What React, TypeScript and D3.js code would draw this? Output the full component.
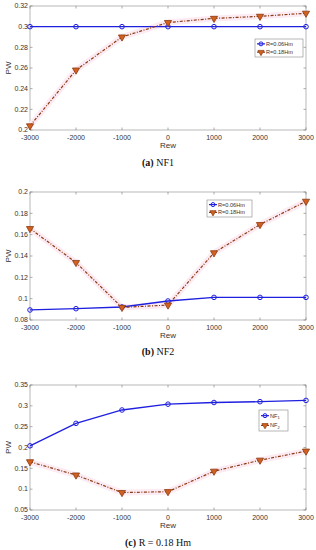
import * as d3 from "d3";
import { useEffect, useRef } from "react";

// Sample data
const rew = [-3000, -2000, -1000, 0, 1000, 2000, 3000];
const nf1R006 = [0.3, 0.3, 0.3, 0.3, 0.3, 0.3, 0.3];
const nf1R018 = [0.204, 0.258, 0.29, 0.304, 0.308, 0.31, 0.313];
const nf2R006 = [0.0894, 0.0906, 0.0922, 0.0978, 0.1012, 0.1012, 0.1012];
const nf2R018 = [0.1657, 0.1339, 0.0918, 0.094, 0.143, 0.1695, 0.1913];
const xTicks = [-3000, -2000, -1000, 0, 1000, 2000, 3000];
const yTicksA = [0.2, 0.22, 0.24, 0.26, 0.28, 0.3, 0.32];
const yTicksB = [0.08, 0.1, 0.12, 0.14, 0.16, 0.18, 0.2];
const yTicksC = [0.05, 0.1, 0.15, 0.2, 0.25, 0.3, 0.35];

const WIDTH = 316;
const HEIGHT = 550;
const BLUE = "#1f1fe0";
const BROWN = "#8a3a12";
const TRI_FILL = "#d2601e";
const SANS = "Liberation Sans, Arial, sans-serif";
const SERIF = "Liberation Serif, DejaVu Serif, serif";

const panels = [
  {
    top: 6, bottom: 130, yTicks: yTicksA, s1: nf1R006, s2: nf1R018,
    labels: ["R=0.06Hm", "R=0.18Hm"], sub: false,
    legend: { x: 255, y: 39, w: 48, h: 18 },
    caption: ["(a)", " NF1"], rewY: 148, capY: 166,
  },
  {
    top: 192, bottom: 320, yTicks: yTicksB, s1: nf2R006, s2: nf2R018,
    labels: ["R=0.06Hm", "R=0.18Hm"], sub: false,
    legend: { x: 207, y: 200, w: 45, h: 17 },
    caption: ["(b)", " NF2"], rewY: 338, capY: 355,
  },
  {
    top: 385, bottom: 510, yTicks: yTicksC, s1: nf1R018, s2: nf2R018,
    labels: ["NF", "NF"], sub: true,
    legend: { x: 259, y: 410, w: 29, h: 21 },
    caption: ["(c)", " R = 0.18 Hm"], rewY: 528, capY: 546,
  },
];

const App = () => {
  const svgRef = useRef(null);

  useEffect(() => {
    const svg = d3.select(svgRef.current);
    svg.selectAll("*").remove();
    const left = 30;
    const right = 306;

    panels.forEach((p) => {
      const g = svg.append("g");
      const ys = p.yTicks;
      const x = d3.scaleLinear().domain([-3000, 3000]).range([left, right]);
      const y = d3.scaleLinear().domain([ys[0], ys[ys.length - 1]]).range([p.bottom, p.top]);

      // white axes background + box
      g.append("rect")
        .attr("x", left).attr("y", p.top)
        .attr("width", right - left).attr("height", p.bottom - p.top)
        .attr("fill", "white").attr("stroke", "#9a9a9a").attr("stroke-width", 0.7);

      // ticks on all sides
      xTicks.forEach((t) => {
        g.append("line").attr("x1", x(t)).attr("x2", x(t))
          .attr("y1", p.bottom).attr("y2", p.bottom - 2.5)
          .attr("stroke", "#777").attr("stroke-width", 0.6);
        g.append("line").attr("x1", x(t)).attr("x2", x(t))
          .attr("y1", p.top).attr("y2", p.top + 2.5)
          .attr("stroke", "#777").attr("stroke-width", 0.6);
        g.append("text").attr("x", x(t)).attr("y", p.bottom + 9.5)
          .attr("text-anchor", "middle").attr("font-family", SANS)
          .attr("font-size", 7).attr("fill", "#333").text(t);
      });
      ys.forEach((t) => {
        g.append("line").attr("x1", left).attr("x2", left + 2.5)
          .attr("y1", y(t)).attr("y2", y(t))
          .attr("stroke", "#777").attr("stroke-width", 0.6);
        g.append("line").attr("x1", right).attr("x2", right - 2.5)
          .attr("y1", y(t)).attr("y2", y(t))
          .attr("stroke", "#777").attr("stroke-width", 0.6);
        g.append("text").attr("x", left - 2).attr("y", y(t) + 2.2)
          .attr("text-anchor", "end").attr("font-family", SANS)
          .attr("font-size", 7).attr("fill", "#333").text(d3.format("~g")(+t.toFixed(2)));
      });

      // axis labels
      g.append("text")
        .attr("transform", `translate(11,${(p.top + p.bottom) / 2}) rotate(-90)`)
        .attr("text-anchor", "middle").attr("font-family", SANS)
        .attr("font-size", 8).attr("fill", "#333").text("PW");
      g.append("text").attr("x", (left + right) / 2).attr("y", p.rewY)
        .attr("text-anchor", "middle").attr("font-family", SANS)
        .attr("font-size", 8).attr("fill", "#333").text("Rew");

      const line = d3.line().x((d, i) => x(rew[i])).y((d) => y(d));

      // soft pink halo under the dashed series
      g.append("path").datum(p.s2)
        .attr("fill", "none").attr("stroke", "#fdebf3")
        .attr("stroke-width", 6).attr("d", line);

      // first series: blue solid with circles
      g.append("path").datum(p.s1)
        .attr("fill", "none").attr("stroke", BLUE)
        .attr("stroke-width", 1.3).attr("d", line);
      p.s1.forEach((v, i) => {
        g.append("circle").attr("cx", x(rew[i])).attr("cy", y(v)).attr("r", 2.3)
          .attr("fill", "none").attr("stroke", BLUE).attr("stroke-width", 1);
      });

      // second series: brown dash-dot with down triangles
      g.append("path").datum(p.s2)
        .attr("fill", "none").attr("stroke", BROWN)
        .attr("stroke-width", 1.2).attr("stroke-dasharray", "3,1.5,1,1.5")
        .attr("d", line);
      const tri = d3.symbol().type(d3.symbolTriangle).size(22);
      p.s2.forEach((v, i) => {
        g.append("path").attr("d", tri())
          .attr("transform", `translate(${x(rew[i])},${y(v)}) rotate(180)`)
          .attr("fill", TRI_FILL).attr("stroke", BROWN).attr("stroke-width", 0.8);
      });

      // legend
      const L = p.legend;
      const lg = g.append("g");
      lg.append("rect").attr("x", L.x).attr("y", L.y).attr("width", L.w).attr("height", L.h)
        .attr("fill", "white").attr("stroke", "#888").attr("stroke-width", 0.6);
      const rowY = [L.y + L.h * 0.27, L.y + L.h * 0.73];
      rowY.forEach((ry, k) => {
        const lx1 = L.x + 2;
        const lx2 = L.x + 10;
        lg.append("line").attr("x1", lx1).attr("x2", lx2).attr("y1", ry).attr("y2", ry)
          .attr("stroke", k === 0 ? BLUE : BROWN).attr("stroke-width", 1.2)
          .attr("stroke-dasharray", k === 0 ? null : "2,1");
        if (k === 0) {
          lg.append("circle").attr("cx", (lx1 + lx2) / 2).attr("cy", ry).attr("r", 2)
            .attr("fill", "none").attr("stroke", BLUE).attr("stroke-width", 1);
        } else {
          lg.append("path").attr("d", d3.symbol().type(d3.symbolTriangle).size(16)())
            .attr("transform", `translate(${(lx1 + lx2) / 2},${ry}) rotate(180)`)
            .attr("fill", TRI_FILL).attr("stroke", BROWN).attr("stroke-width", 0.7);
        }
        const t = lg.append("text").attr("x", lx2 + 1).attr("y", ry + 2)
          .attr("font-family", SANS).attr("font-size", 5.6).attr("fill", "#333")
          .text(p.labels[k]);
        if (p.sub) {
          t.append("tspan").attr("dy", 1.5).attr("font-size", 4).text(String(k + 1));
        }
      });

      // caption
      const cap = g.append("text").attr("x", 158).attr("y", p.capY)
        .attr("text-anchor", "middle").attr("font-family", SERIF)
        .attr("font-size", 10).attr("fill", "#111");
      cap.append("tspan").attr("font-weight", "bold").text(p.caption[0]);
      cap.append("tspan").text(p.caption[1]);
    });
  }, []);

  return (
    <svg
      ref={svgRef}
      width={WIDTH}
      height={HEIGHT}
      style={{ position: "absolute", left: 0, top: 0, background: "white" }}
    ></svg>
  );
};

export default App;
